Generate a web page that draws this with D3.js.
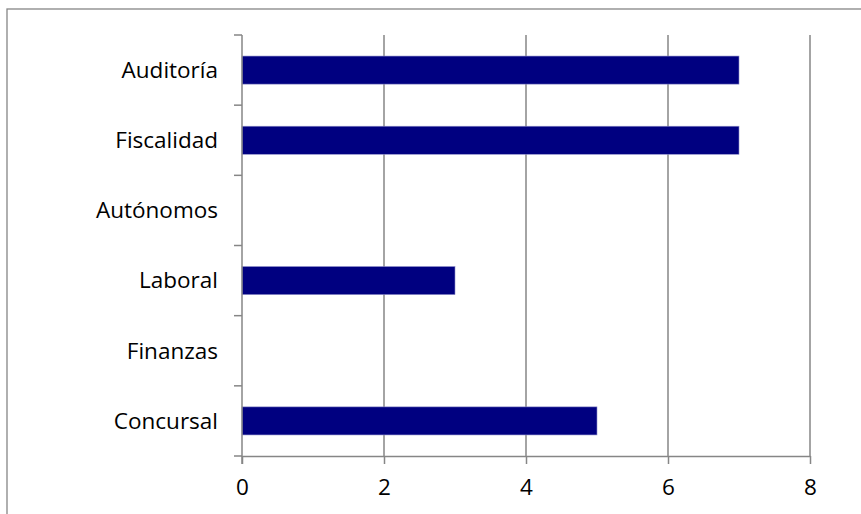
<!DOCTYPE html>
<html><head><meta charset="utf-8">
<script src="https://cdn.jsdelivr.net/npm/d3@7"></script>
<style>body{margin:0;background:#fff}svg{display:block}</style>
</head><body><svg id="c" width="861" height="514"></svg>
<script>
const categories = ["Auditoría","Fiscalidad","Autónomos","Laboral","Finanzas","Concursal"];
const values = [7,7,0,3,0,5];
const xTicks = [0,2,4,6,8];

(function(){
const svg = d3.select("#c");
const pLeft=242, pRight=810, pTop=35, pBottom=456;
const font = "'Open Sans', 'Noto Sans', sans-serif";
const fs = 22.5;
svg.append("rect").attr("x",7).attr("y",9).attr("width",880).attr("height",540)
  .attr("fill","#fff").attr("stroke","#868686").attr("stroke-width",1.3);

const x = d3.scaleLinear().domain([0,8]).range([pLeft,pRight]);
const y = d3.scaleBand().domain(categories).range([pTop,pBottom]).paddingInner(0.6).paddingOuter(0.3);

// gridlines
svg.append("g").selectAll("line").data(xTicks.filter(d=>d>0)).join("line")
  .attr("x1",d=>x(d)).attr("x2",d=>x(d)).attr("y1",pTop).attr("y2",pBottom)
  .attr("stroke","#868686").attr("stroke-width",1.5);

// bars
svg.append("g").selectAll("rect").data(categories).join("rect")
  .attr("x",x(0)).attr("y",d=>y(d)).attr("height",y.bandwidth())
  .attr("width",(d,i)=>x(values[i])-x(0))
  .attr("fill","#000080").attr("stroke","#8c8cc8").attr("stroke-width",0.6);

// x axis
const xAxis = d3.axisBottom(x).tickValues(xTicks).tickSize(8).tickPadding(15).tickSizeOuter(0);
const gx = svg.append("g").attr("transform",`translate(0,${pBottom})`).call(xAxis);
gx.select(".domain").attr("stroke","#868686").attr("stroke-width",1.5);
gx.selectAll(".tick line").attr("stroke","#868686").attr("stroke-width",1.5);
gx.selectAll("text").attr("font-family",font).attr("font-size",fs).attr("fill","#000");

// y axis: ticks at band boundaries
const step = y.step();
const yb = d3.range(categories.length+1).map(i=>pTop + i*step);
svg.append("line").attr("x1",pLeft).attr("x2",pLeft).attr("y1",pTop).attr("y2",pBottom+8)
  .attr("stroke","#868686").attr("stroke-width",1.5);
svg.append("g").selectAll("line").data(yb).join("line")
  .attr("x1",pLeft-8).attr("x2",pLeft).attr("y1",d=>d).attr("y2",d=>d)
  .attr("stroke","#868686").attr("stroke-width",1.5);
svg.append("g").selectAll("text").data(categories).join("text")
  .attr("x",pLeft-24).attr("y",d=>y(d)+y.bandwidth()/2).attr("dy","0.35em")
  .attr("text-anchor","end").attr("font-family",font).attr("font-size",fs).attr("fill","#000")
  .text(d=>d);
})();
</script></body></html>
